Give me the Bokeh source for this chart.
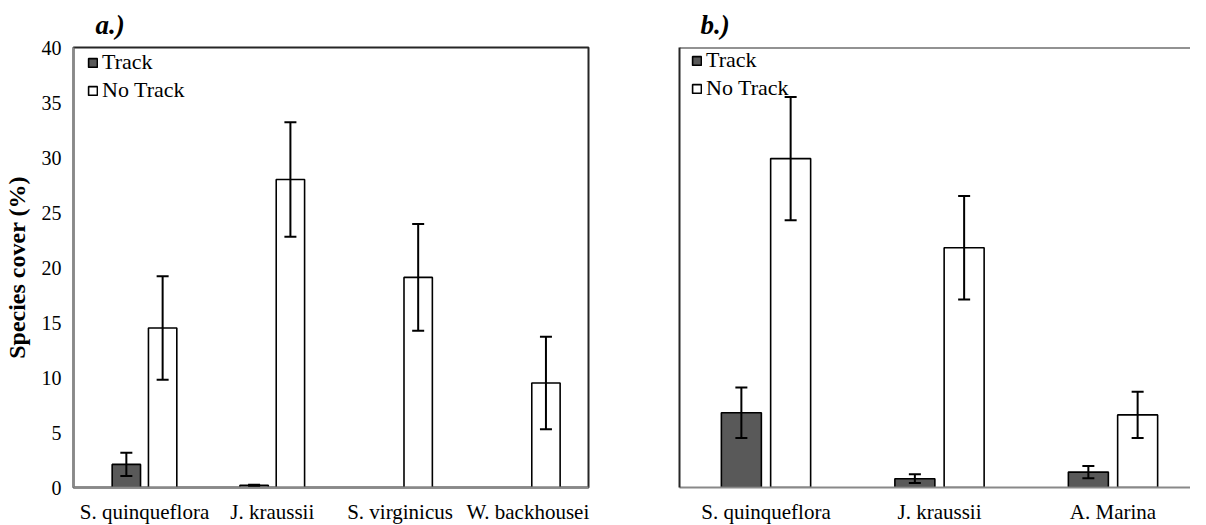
import numpy as np
from bokeh.plotting import figure
from bokeh.models import (ColumnDataSource, Whisker, TeeHead, Legend, LegendItem,
                          FixedTicker, Range1d, Span)
from bokeh.layouts import row
from bokeh.embed import file_html
from bokeh.resources import INLINE

# ---- data ----
left_categories = ["S. quinqueflora", "J. kraussii", "S. virginicus", "W. backhousei"]
left_track = [2.1, 0.2, 0.0, 0.0]
left_track_err = [1.05, 0.05, 0.0, 0.0]
left_notrack = [14.5, 28.0, 19.1, 9.5]
left_notrack_err = [4.7, 5.2, 4.85, 4.2]

right_categories = ["S. quinqueflora", "J. kraussii", "A. Marina"]
right_track = [6.8, 0.8, 1.4]
right_track_err = [2.3, 0.4, 0.55]
right_notrack = [29.9, 21.8, 6.6]
right_notrack_err = [5.6, 4.7, 2.1]

series_labels = ["Track", "No Track"]
y_ticks = [0, 5, 10, 15, 20, 25, 30, 35, 40]

FONT = "Liberation Serif"
DARK = "#595959"
AXIS_GRAY = "#898989"


def make_panel(cats, track, terr, notrack, nerr, width, bl, br, x_start, x_end,
               bar_w, title, title_offset, show_y, legend_xy):
    p = figure(width=width, height=526, x_range=Range1d(x_start, x_end),
               y_range=Range1d(0, 40), output_backend="svg", toolbar_location=None,
               min_border_left=bl, min_border_right=br, min_border_top=40,
               min_border_bottom=35, background_fill_color="white",
               border_fill_color="white")
    p.xgrid.visible = False
    p.ygrid.visible = False

    idx = np.arange(len(cats))
    off = 0.142
    t = np.array(track, dtype=float)
    te = np.array(terr, dtype=float)
    n = np.array(notrack, dtype=float)
    ne = np.array(nerr, dtype=float)
    mask = t > 0
    src_t = ColumnDataSource(dict(x=(idx - off)[mask], top=t[mask],
                                  upper=(t + te)[mask], lower=(t - te)[mask]))
    src_n = ColumnDataSource(dict(x=idx + off, top=n, upper=n + ne, lower=n - ne))

    r1 = p.vbar(x="x", top="top", width=bar_w, source=src_t, fill_color=DARK,
                line_color="black", line_width=1.6)
    r2 = p.vbar(x="x", top="top", width=bar_w, source=src_n, fill_color="white",
                line_color="black", line_width=1.6)

    for src in (src_t, src_n):
        w = Whisker(base="x", upper="upper", lower="lower", source=src,
                    line_color="black", line_width=2, level="overlay",
                    upper_head=TeeHead(size=12, line_width=2, line_color="black"),
                    lower_head=TeeHead(size=12, line_width=2, line_color="black"))
        p.add_layout(w)

    # x axis
    xa = p.xaxis[0]
    xa.ticker = FixedTicker(ticks=[int(i) for i in idx])
    xa.major_label_overrides = {int(i): c for i, c in zip(idx, cats)}
    xa.axis_line_color = AXIS_GRAY
    xa.axis_line_width = 2
    xa.major_tick_in = 0
    xa.major_tick_out = 0
    xa.minor_tick_in = 0
    xa.minor_tick_out = 0
    xa.major_label_standoff = 12
    xa.major_label_text_font = FONT
    xa.major_label_text_font_size = "21px"
    xa.major_label_text_color = "black"

    ya = p.yaxis[0]
    ya.major_tick_in = 0
    ya.major_tick_out = 0
    ya.minor_tick_in = 0
    ya.minor_tick_out = 0
    if show_y:
        ya.ticker = FixedTicker(ticks=y_ticks)
        ya.axis_line_color = AXIS_GRAY
        ya.axis_line_width = 2
        ya.major_label_standoff = 12
        ya.major_label_text_font = FONT
        ya.major_label_text_font_size = "20px"
        ya.major_label_text_color = "black"
        ya.axis_label = "Species cover (%)"
        ya.axis_label_text_font = FONT
        ya.axis_label_text_font_style = "bold"
        ya.axis_label_text_font_size = "24px"
        ya.axis_label_text_color = "black"
        ya.axis_label_standoff = 9
        p.outline_line_color = "#262626"
        p.outline_line_width = 2
    else:
        ya.ticker = FixedTicker(ticks=[])
        ya.major_label_text_font_size = "0px"
        ya.axis_line_color = "#262626"
        ya.axis_line_width = 2
        p.outline_line_color = None
        p.add_layout(Span(location=40, dimension="width", line_color="#262626",
                          line_width=2))

    # title
    p.title.text = title
    p.title.text_font = FONT
    p.title.text_font_style = "bold italic"
    p.title.text_font_size = "27px"
    p.title.align = "left"
    p.title.offset = title_offset
    p.title.standoff = 15
    p.title.text_color = "black"

    legend = Legend(items=[LegendItem(label=series_labels[0], renderers=[r1]),
                           LegendItem(label=series_labels[1], renderers=[r2])],
                    location=legend_xy, margin=0, padding=0,
                    border_line_color=None, background_fill_alpha=0,
                    label_text_font=FONT, label_text_font_size="22px",
                    label_text_color="black", glyph_width=11, glyph_height=11,
                    label_height=22, spacing=2, label_standoff=4)
    p.add_layout(legend)
    return p


left = make_panel(left_categories, left_track, left_track_err, left_notrack,
                  left_notrack_err, width=632, bl=62, br=44,
                  x_start=-0.5556, x_end=3.475, bar_w=0.222, title="a.)",
                  title_offset=22, show_y=True, legend_xy=(14, 384))
right = make_panel(right_categories, right_track, right_track_err, right_notrack,
                   right_notrack_err, width=558, bl=47, br=0,
                   x_start=-0.4986, x_end=2.4467, bar_w=0.2305, title="b.)",
                   title_offset=21, show_y=False, legend_xy=(12, 386))

layout = row(left, right, spacing=0)
open("out.html", "w").write(file_html(layout, INLINE))
